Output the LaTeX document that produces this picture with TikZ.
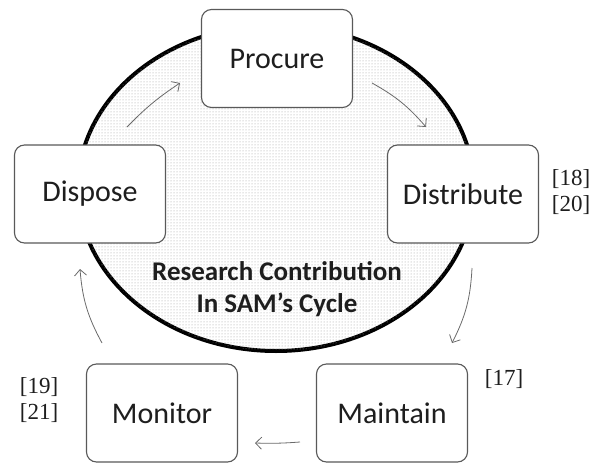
\documentclass[tikz,border=0pt]{standalone}
\usepackage{fontspec}
\setmainfont{Carlito}
\newfontfamily\citefont{Liberation Serif}
\usepackage{tikz}
\usetikzlibrary{arrows.meta,patterns}
\definecolor{samEdge}{HTML}{595959}
\definecolor{samText}{HTML}{1E1E1E}
\definecolor{samDots}{HTML}{9C9C9C}
\definecolor{samFlow}{HTML}{6A6A6A}

\begin{document}
\begin{tikzpicture}[
    x=1pt,y=-1pt,
    stage/.style={draw=samEdge,line width=1.1pt,fill=white,rounded corners=10pt,
                  minimum width=151pt,minimum height=98pt,align=center,text=samText,
                  font=\fontsize{30}{34}\selectfont},
    core/.style={align=center,text=samText,font=\fontsize{27}{32}\selectfont\bfseries},
    cite/.style={align=left,text=samText,font=\citefont\fontsize{23}{26}\selectfont},
    flow/.style={draw=samFlow,line width=0.8pt,-{Straight Barb[length=6pt,width=12pt]}}
  ]
    \useasboundingbox (0,0) rectangle (592,463);

    % cycle background
    \draw[line width=4pt,fill=white,postaction={pattern=dots,pattern color=samDots}]
      (276,188) ellipse [x radius=198,y radius=163];
    \node[core] (title) at (277,289) {Research Contribution\\In SAM’s Cycle};

    % stages
    \node[stage] (proc) at (277,58.5)  {Procure};
    \node[stage] (dist) at (463,194)   {Distribute};
    \node[stage] (main) at (392,413)   {Maintain};
    \node[stage] (moni) at (162,413)   {Monitor};
    \node[stage] (disp) at (90,194)    {Dispose};

    % references
    \node[cite] (c1) at (571,192) {[18]\\{}[20]};
    \node[cite] (c2) at (504,379) {[17]};
    \node[cite] (c3) at (39,400)  {[19]\\{}[21]};

    % arrow ends
    \coordinate (a1) at (127,127);
    \coordinate (b1) at (180,83);
    \coordinate (a2) at (372,83);
    \coordinate (b2) at (426,127);
    \coordinate (a3) at (472,268);
    \coordinate (b3) at (452,343);
    \coordinate (a4) at (300,442);
    \coordinate (b4) at (255,443);
    \coordinate (a5) at (102,343);
    \coordinate (b5) at (80,269);

    \draw[flow] (a1) to[bend left=6]  (b1);
    \draw[flow] (a2) to[bend left=10] (b2);
    \draw[flow] (a3) to[bend left=12] (b3);
    \draw[flow] (a4) to[bend left=3]  (b4);
    \draw[flow] (a5) to[bend left=12] (b5);
  \end{tikzpicture}
\end{document}
